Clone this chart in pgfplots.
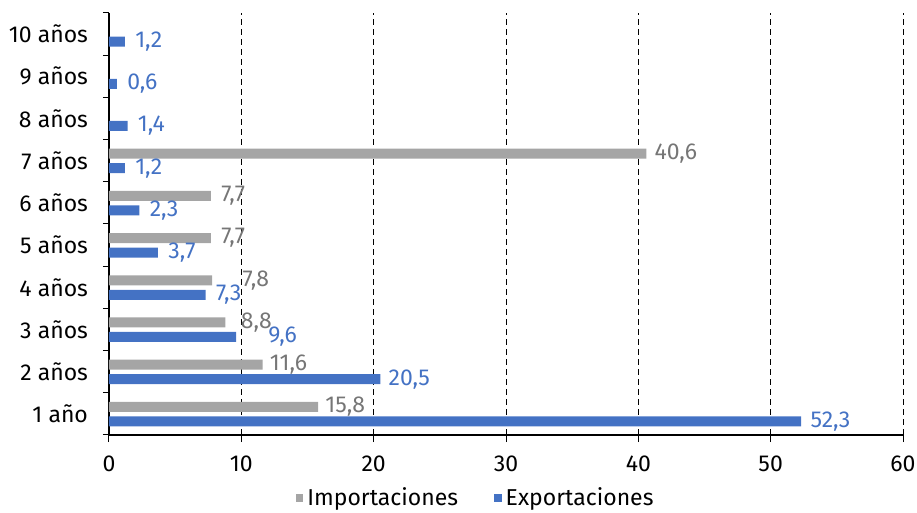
\documentclass[border=0pt]{standalone}
\usepackage{fontspec}
\setmainfont{Fira Sans}
\usepackage{pgfplots}
\usepackage{pgfplotstable}
\pgfplotsset{compat=1.18}
\definecolor{impgray}{HTML}{A5A5A5}
\definecolor{implab}{HTML}{767676}
\definecolor{expblue}{HTML}{4472C4}

% y = category (1 = 1 año), x = value, dx = label offset (pt)
\pgfplotstableread{
y x dx
1 15.8 3.5
2 11.6 3.5
3 8.8 7.5
4 7.8 15
5 7.7 5
6 7.7 5
7 40.6 4
}\impdata
\pgfplotstableread{
y x dx
1 52.3 4.5
2 20.5 4
3 9.6 16
4 7.3 5
5 3.7 5
6 2.3 5
7 1.2 5
8 1.4 5
9 0.6 5
10 1.2 5
}\expdata

\begin{document}
\begin{tikzpicture}
\begin{axis}[
  scale only axis, width=397pt, height=211pt,
  xbar, bar width=5pt,
  xmin=0, xmax=60, xtick={0,10,...,60},
  ymin=0.5, ymax=10.5,
  ytick={1,...,10},
  yticklabels={1 año,2 años,3 años,4 años,5 años,6 años,7 años,8 años,9 años,10 años},
  minor ytick={0.5,1.5,...,10.5},
  axis x line*=bottom, axis y line*=left,
  tick align=outside,
  major tick length=3.5pt, minor tick length=3pt,
  major y tick style={draw=none},
  axis line style={black, line width=0.6pt},
  tick style={black, line width=0.5pt},
  xmajorgrids,
  major x grid style={black, line width=0.5pt, dash pattern=on 3pt off 2pt},
  ticklabel style={font=\fontsize{11.5}{13}\selectfont},
  xticklabel style={yshift=-3.5pt},
  yticklabel style={xshift=-3.5pt},
  /pgf/number format/assume math mode=true,
  point meta=x,
  nodes near coords={\pgfmathprintnumber[fixed,fixed zerofill,precision=1,use comma,assume math mode=true]{\pgfplotspointmeta}},
  visualization depends on={\thisrow{dx} \as \labdx},
  every node near coord/.append style={anchor=west, inner sep=0pt, xshift=\labdx pt, font=\fontsize{11.5}{13}\selectfont},
  legend style={at={(0.463,-0.149)}, anchor=center, draw=none, fill=none,
    legend columns=2, font=\fontsize{11.5}{13}\selectfont,
    /tikz/every even column/.append style={column sep=16pt}},
  legend image code/.code={\fill[#1] (-1.5pt,-1.9pt) rectangle (2.3pt,1.9pt);},
]
\addplot[fill=impgray, draw=none, bar shift=3.5pt,
  every node near coord/.append style={text=implab}] table[x=x,y=y] {\impdata};
\addlegendentry{Importaciones}
\addplot[fill=expblue, draw=none, bar shift=-3.75pt,
  every node near coord/.append style={text=expblue}] table[x=x,y=y] {\expdata};
\addlegendentry{Exportaciones}
\end{axis}
\pgfresetboundingbox
\path ([shift={(-54.5pt,-38.5pt)}]current axis.south west) rectangle ([shift={(7pt,6.5pt)}]current axis.north east);
\end{tikzpicture}
\end{document}
